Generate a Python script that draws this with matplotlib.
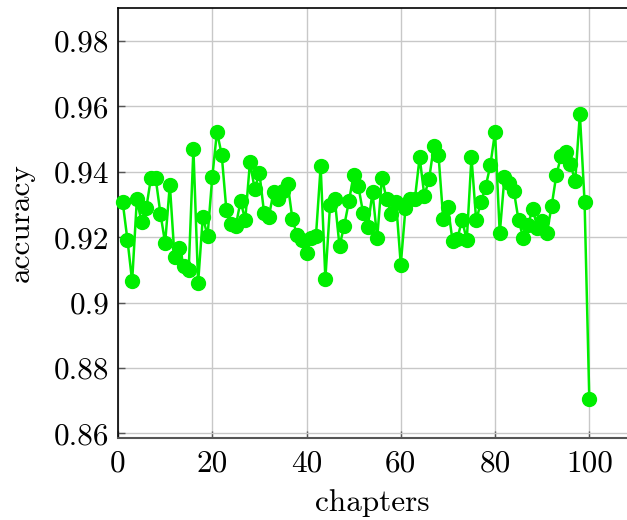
import matplotlib
matplotlib.use("Agg")
import matplotlib.pyplot as plt

plt.rcParams["font.family"] = "cmr10"
plt.rcParams["mathtext.fontset"] = "cm"
plt.rcParams["axes.formatter.use_mathtext"] = True

chapters = list(range(1, 101))
accuracy = [
    0.9306, 0.9192, 0.9065, 0.9315, 0.9245, 0.9289, 0.9381, 0.9379, 0.9272, 0.9182,
    0.9360, 0.9138, 0.9167, 0.9111, 0.9099, 0.9469, 0.9060, 0.9262, 0.9203, 0.9383,
    0.9522, 0.9452, 0.9282, 0.9240, 0.9235, 0.9309, 0.9253, 0.9429, 0.9347, 0.9396,
    0.9274, 0.9262, 0.9337, 0.9315, 0.9340, 0.9363, 0.9256, 0.9205, 0.9190, 0.9152,
    0.9197, 0.9203, 0.9416, 0.9073, 0.9299, 0.9315, 0.9172, 0.9235, 0.9309, 0.9391,
    0.9355, 0.9274, 0.9231, 0.9337, 0.9197, 0.9381, 0.9315, 0.9271, 0.9306, 0.9116,
    0.9289, 0.9315, 0.9317, 0.9444, 0.9327, 0.9376, 0.9477, 0.9452, 0.9256, 0.9292,
    0.9187, 0.9194, 0.9253, 0.9190, 0.9444, 0.9251, 0.9306, 0.9353, 0.9419, 0.9521,
    0.9211, 0.9383, 0.9365, 0.9340, 0.9251, 0.9197, 0.9238, 0.9286, 0.9228, 0.9248,
    0.9213, 0.9294, 0.9389, 0.9447, 0.9460, 0.9424, 0.9370, 0.9576, 0.9307, 0.8706,
]
x_ticks = [0, 20, 40, 60, 80, 100]
y_ticks = [0.86, 0.88, 0.90, 0.92, 0.94, 0.96, 0.98]
y_tick_labels = ["0.86", "0.88", "0.9", "0.92", "0.94", "0.96", "0.98"]

fig = plt.figure(figsize=(6.27, 5.2), dpi=100)
ax = fig.add_axes([118 / 627, (520 - 438) / 520, 1 - 118 / 627, (438 - 8) / 520])

ax.plot(chapters, accuracy, color="#00ee00", linewidth=1.8, marker="o",
        markersize=10, markerfacecolor="#00ee00", markeredgecolor="#00ee00",
        zorder=3, clip_on=False)

ax.set_xlim(0, 108)
ax.set_ylim(0.8586, 0.99)
ax.set_xticks(x_ticks)
ax.set_xticklabels([str(t) for t in x_ticks])
ax.set_yticks(y_ticks)
ax.set_yticklabels(y_tick_labels)

ax.grid(True, color="#c8c8c8", linewidth=1.0, zorder=0)
ax.set_axisbelow(True)
ax.tick_params(direction="in", length=5, width=1.0, color="#555555",
               labelsize=22.5, pad=6)
ax.tick_params(axis="x", pad=8)
for side in ("left", "top"):
    ax.spines[side].set_color("black")
    ax.spines[side].set_linewidth(1.2)
ax.spines["bottom"].set_color("#555555")
ax.spines["bottom"].set_linewidth(1.5)
ax.spines["right"].set_visible(False)

ax.set_xlabel("chapters", fontsize=22.5, labelpad=9)
ax.set_ylabel("accuracy", fontsize=22.5, labelpad=14)

fig.savefig("out.png", dpi=100)
